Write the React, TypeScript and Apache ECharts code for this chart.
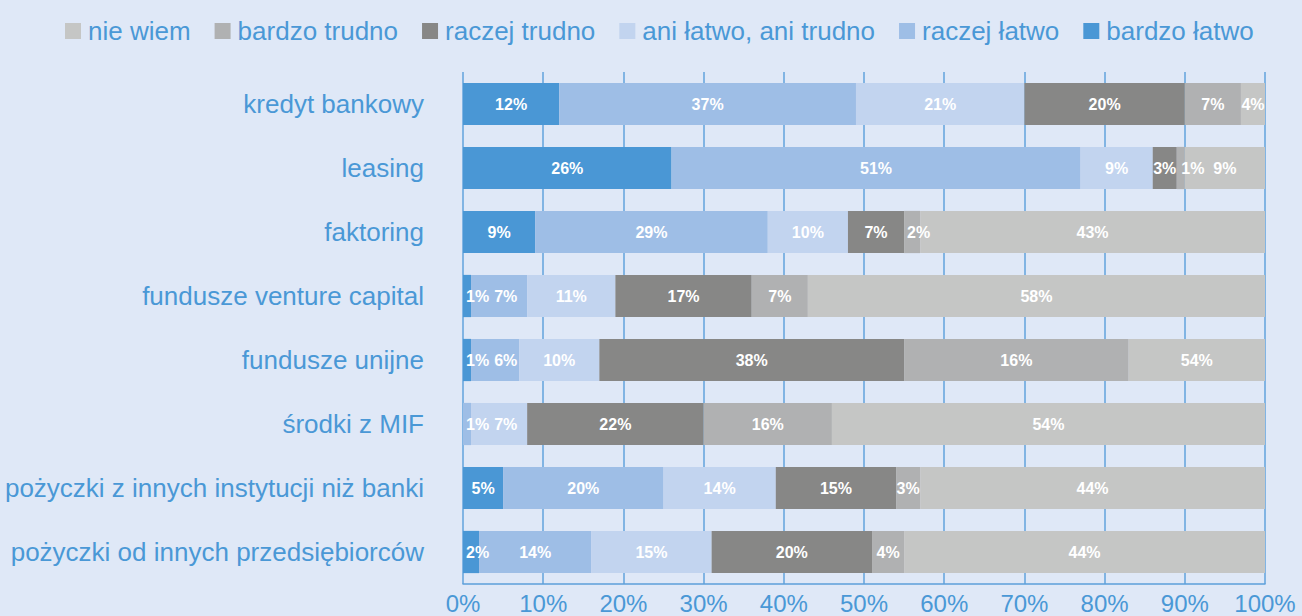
import React, { useEffect, useRef } from "react";
import * as echarts from "echarts";

const categories = [
  "kredyt bankowy",
  "leasing",
  "faktoring",
  "fundusze venture capital",
  "fundusze unijne",
  "środki z MIF",
  "pożyczki z innych instytucji niż banki",
  "pożyczki od innych przedsiębiorców",
];

const seriesNames = [
  "bardzo łatwo",
  "raczej łatwo",
  "ani łatwo, ani trudno",
  "raczej trudno",
  "bardzo trudno",
  "nie wiem",
];

// bar widths (share of row, %)
const bardzoLatwo = [12, 26, 9, 1, 1, 0, 5, 2];
const raczejLatwo = [37, 51, 29, 7, 6, 1, 20, 14];
const aniLatwoAniTrudno = [21, 9, 10, 11, 10, 7, 14, 15];
const raczejTrudno = [20, 3, 7, 17, 38, 22, 15, 20];
const bardzoTrudno = [7, 1, 2, 7, 28, 16, 3, 4];
const nieWiem = [3, 10, 43, 57, 17, 54, 43, 45];

// printed labels
const bardzoLatwoLabels = ["12%", "26%", "9%", "1%", "1%", "", "5%", "2%"];
const raczejLatwoLabels = ["37%", "51%", "29%", "7%", "6%", "1%", "20%", "14%"];
const aniLabels = ["21%", "9%", "10%", "11%", "10%", "7%", "14%", "15%"];
const raczejTrudnoLabels = ["20%", "3%", "7%", "17%", "38%", "22%", "15%", "20%"];
const bardzoTrudnoLabels = ["7%", "1%", "2%", "7%", "16%", "16%", "3%", "4%"];
const nieWiemLabels = ["4%", "9%", "43%", "58%", "54%", "54%", "44%", "44%"];

const legendOrder = [
  "nie wiem",
  "bardzo trudno",
  "raczej trudno",
  "ani łatwo, ani trudno",
  "raczej łatwo",
  "bardzo łatwo",
];

const colors = ["#4a97d5", "#9ebee6", "#c2d4ef", "#878786", "#b0b1b2", "#c5c6c5"];
const BLUE = "#4a98d6";
const FONT = "Liberation Sans, Arial, sans-serif";
const GRID_LEFT = 463;

export default function App() {
  const ref = useRef<HTMLDivElement>(null);

  useEffect(() => {
    if (!ref.current) return;
    const chart = echarts.init(ref.current, undefined, { renderer: "svg" });
    const values = [bardzoLatwo, raczejLatwo, aniLatwoAniTrudno, raczejTrudno, bardzoTrudno, nieWiem];
    const labels = [bardzoLatwoLabels, raczejLatwoLabels, aniLabels, raczejTrudnoLabels, bardzoTrudnoLabels, nieWiemLabels];
    const lastRight: Record<number, number> = {};

    const series = seriesNames.map((name, i) => ({
      name,
      type: "bar",
      stack: "total",
      barCategoryGap: "34%",
      data: values[i],
      itemStyle: { color: colors[i] },
      label: {
        show: true,
        position: "inside",
        color: "#ffffff",
        fontWeight: "bold",
        fontSize: 16,
        fontFamily: FONT,
        formatter: (p: any) => labels[i][p.dataIndex],
      },
      labelLayout: (p: any) => {
        if (!p.labelRect || !p.rect) return {};
        const row = p.dataIndex;
        if (p.rect.x <= GRID_LEFT + 1) lastRight[row] = -Infinity;
        const w = p.labelRect.width;
        let left = p.labelRect.x;
        let moved = false;
        if (w > p.rect.width + 1) {
          left = p.rect.x + 3;
          moved = true;
        }
        const prev = lastRight[row] ?? -Infinity;
        if (p.text && left < prev + 5) {
          left = prev + 5;
          moved = true;
        }
        if (p.text) lastRight[row] = left + w;
        if (!moved) return {};
        return {
          x: left,
          y: p.rect.y + p.rect.height / 2,
          align: "left",
          verticalAlign: "middle",
        };
      },
    }));

    chart.setOption({
      animation: false,
      backgroundColor: "#dfe8f7",
      textStyle: { fontFamily: FONT },
      legend: {
        data: legendOrder,
        left: 60,
        top: 13,
        itemWidth: 16,
        itemHeight: 16,
        itemGap: 24,
        icon: "rect",
        textStyle: { color: BLUE, fontSize: 26, fontFamily: FONT, padding: [0, 0, 0, 2] },
      },
      grid: { left: GRID_LEFT, right: 37, top: 72, bottom: 32, containLabel: false },
      xAxis: {
        type: "value",
        min: 0,
        max: 100,
        interval: 10,
        axisLine: { show: true, lineStyle: { color: "#5c9fda", width: 1.5 } },
        axisTick: { show: false },
        splitLine: { show: true, lineStyle: { color: "#62a3dc", width: 1.5 } },
        axisLabel: {
          color: BLUE,
          fontSize: 24,
          fontFamily: FONT,
          margin: 7,
          formatter: "{value}%",
        },
      },
      yAxis: {
        type: "category",
        data: categories,
        inverse: true,
        axisLine: { show: false },
        axisTick: { show: false },
        axisLabel: { color: BLUE, fontSize: 26, fontFamily: FONT, margin: 39 },
      },
      series,
    });

    return () => chart.dispose();
  }, []);

  return (
    <div
      ref={ref}
      style={{ position: "fixed", left: 0, top: 0, width: 1302, height: 616, background: "#dfe8f7" }}
    />
  );
}
